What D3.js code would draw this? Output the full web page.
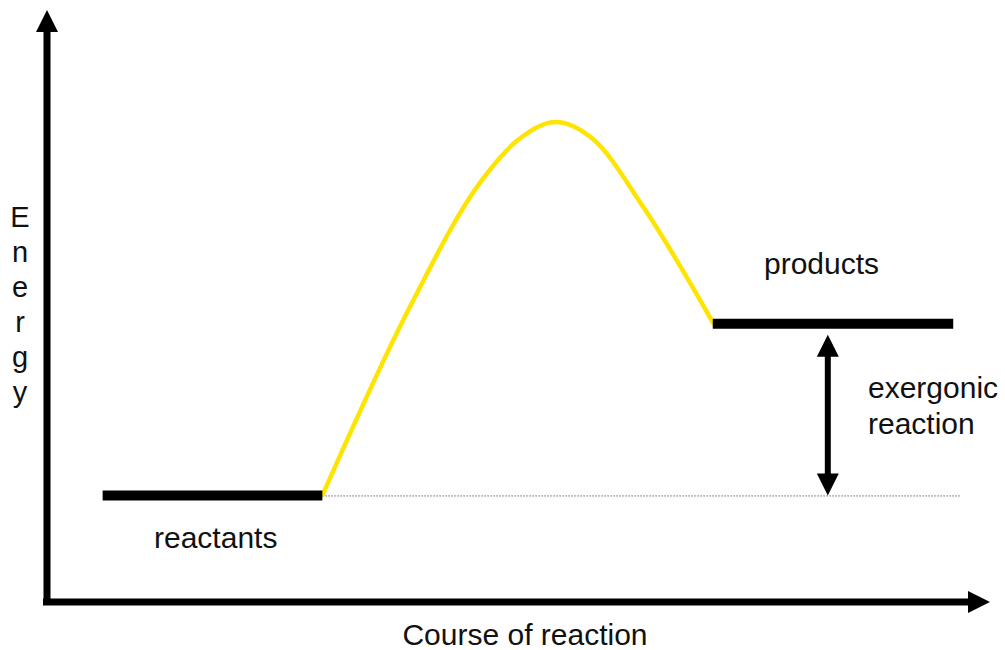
<!DOCTYPE html>
<html>
<head>
<meta charset="utf-8">
<script src="https://cdn.jsdelivr.net/npm/d3@7"></script>
<style>
  html, body { margin: 0; padding: 0; background: #fff; }
  svg { display: block; }
  text { font-family: "Liberation Sans", Arial, sans-serif; fill: #111; }
</style>
</head>
<body>
<svg id="chart" width="1005" height="650"></svg>
<script>
// ---- data (course of reaction 0-100, energy 0-100) ----
const reactantCourse = [5.9, 29.2];
const reactantEnergy = 18;
const productCourse = [70.6, 96.1];
const productEnergy = 47;
const baselineEnd = 96.8;
const deltaCourse = 82.8;
const curveCourse = [29.2, 38.5, 45.9, 49.9, 53.9, 57.9, 63.2, 70.7];
const curveEnergy = [18.0, 49.9, 70.8, 78.0, 81.1, 78.2, 66.8, 47.0];
const yLabelLetters = ["E", "n", "e", "r", "g", "y"];
const xLabel = "Course of reaction";
const labels = {reactants: "reactants", products: "products", delta: ["exergonic", "reaction"]};

const svg = d3.select("#chart");
const x = d3.scaleLinear().domain([0, 100]).range([47, 990]);
const y = d3.scaleLinear().domain([0, 100]).range([602, 10]);

// axes
const head = 22, half = 11, axisW = 7;
svg.append("line").attr("x1", x(0)).attr("x2", x(0))
  .attr("y1", y(0) + 3).attr("y2", y(100) + head)
  .attr("stroke", "#000").attr("stroke-width", axisW);
svg.append("path").attr("fill", "#000")
  .attr("d", `M${x(0)},${y(100)} L${x(0) - half},${y(100) + head} L${x(0) + half},${y(100) + head} Z`);
svg.append("line").attr("x1", x(0) - 4).attr("x2", x(100) - head)
  .attr("y1", y(0)).attr("y2", y(0))
  .attr("stroke", "#000").attr("stroke-width", axisW);
svg.append("path").attr("fill", "#000")
  .attr("d", `M${x(100)},${y(0)} L${x(100) - head},${y(0) - half} L${x(100) - head},${y(0) + half} Z`);

// dotted baseline
svg.append("line").attr("x1", x(reactantCourse[1])).attr("x2", x(baselineEnd))
  .attr("y1", y(reactantEnergy) + 0.5).attr("y2", y(reactantEnergy) + 0.5)
  .attr("stroke", "#666").attr("stroke-width", 1).attr("stroke-dasharray", "1.5,1.5");

// energy curve
const pts = curveCourse.map((c, i) => [c, curveEnergy[i]]);
svg.append("path").datum(pts)
  .attr("fill", "none").attr("stroke", "#FFE400").attr("stroke-width", 4.5)
  .attr("stroke-linecap", "round")
  .attr("d", d3.line().x(d => x(d[0])).y(d => y(d[1])).curve(d3.curveMonotoneX));

// levels
svg.append("line").attr("x1", x(reactantCourse[0])).attr("x2", x(reactantCourse[1]))
  .attr("y1", y(reactantEnergy)).attr("y2", y(reactantEnergy))
  .attr("stroke", "#000").attr("stroke-width", 10);
svg.append("line").attr("x1", x(productCourse[0])).attr("x2", x(productCourse[1]))
  .attr("y1", y(productEnergy)).attr("y2", y(productEnergy))
  .attr("stroke", "#000").attr("stroke-width", 10);

// double arrow
const ax = x(deltaCourse);
const topTip = y(productEnergy) + 11, botTip = y(reactantEnergy);
svg.append("line").attr("x1", ax).attr("x2", ax)
  .attr("y1", topTip + head - 1).attr("y2", botTip - head + 1)
  .attr("stroke", "#000").attr("stroke-width", 6);
svg.append("path").attr("fill", "#000")
  .attr("d", `M${ax},${topTip} L${ax - half},${topTip + head} L${ax + half},${topTip + head} Z`);
svg.append("path").attr("fill", "#000")
  .attr("d", `M${ax},${botTip} L${ax - half},${botTip - head} L${ax + half},${botTip - head} Z`);

// labels
const fs = 30;
svg.append("text").attr("x", 154).attr("y", 548).attr("font-size", fs).text(labels.reactants);
svg.append("text").attr("x", 764).attr("y", 274).attr("font-size", fs).text(labels.products);
labels.delta.forEach((t, i) => {
  svg.append("text").attr("x", 868).attr("y", 398 + i * 36).attr("font-size", fs).text(t);
});
svg.append("text").attr("x", 525).attr("y", 645).attr("font-size", fs)
  .attr("text-anchor", "middle").text(xLabel);
yLabelLetters.forEach((l, i) => {
  svg.append("text").attr("x", 20).attr("y", 227 + i * 35).attr("font-size", 29)
    .attr("text-anchor", "middle").text(l);
});
</script>
</body>
</html>
